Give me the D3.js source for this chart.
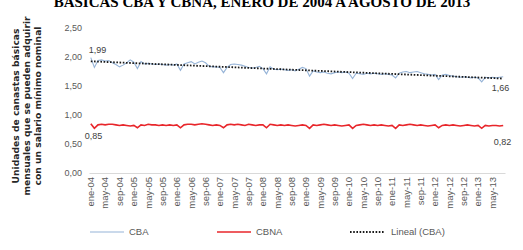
<!DOCTYPE html>
<html>
<head>
<meta charset="utf-8">
<script src="https://cdn.jsdelivr.net/npm/d3@7"></script>
<style>
body { margin: 0; background: #fff; }
text { font-family: "Liberation Sans", Arial, sans-serif; }
</style>
</head>
<body>
<div id="chart"></div>
<script>
// monthly series, ene-2004 .. ago-2013
var mesesCortos = ["ene","feb","mar","abr","may","jun","jul","ago","sep","oct","nov","dic"];
var anios = ["04","05","06","07","08","09","10","11","12","13"];

var cba = [
  1.99, 1.82, 1.94, 1.95, 1.93, 1.94, 1.90, 1.87, 1.83, 1.86, 1.90, 1.95,
  1.91, 1.80, 1.92, 1.88, 1.89, 1.88, 1.87, 1.88, 1.87, 1.86, 1.87, 1.86,
  1.88, 1.77, 1.88, 1.90, 1.92, 1.88, 1.91, 1.93, 1.90, 1.84, 1.83, 1.83,
  1.82, 1.73, 1.82, 1.87, 1.88, 1.87, 1.86, 1.84, 1.82, 1.81, 1.82, 1.84,
  1.80, 1.71, 1.83, 1.79, 1.78, 1.79, 1.78, 1.77, 1.78, 1.76, 1.79, 1.82,
  1.80, 1.67, 1.76, 1.74, 1.73, 1.74, 1.72, 1.71, 1.73, 1.74, 1.73, 1.74,
  1.72, 1.63, 1.72, 1.71, 1.70, 1.72, 1.71, 1.72, 1.71, 1.70, 1.71, 1.70,
  1.69, 1.64, 1.72, 1.74, 1.75, 1.73, 1.74, 1.75, 1.73, 1.71, 1.70, 1.69,
  1.70, 1.61, 1.69, 1.70, 1.68, 1.67, 1.66, 1.65, 1.66, 1.65, 1.64, 1.65,
  1.64, 1.57, 1.65, 1.64, 1.65, 1.64, 1.65, 1.66
];

var cbna = [
  0.85, 0.77, 0.83, 0.84, 0.83, 0.84, 0.84, 0.83, 0.82, 0.83, 0.82, 0.81,
  0.82, 0.78, 0.83, 0.82, 0.84, 0.83, 0.83, 0.82, 0.83, 0.82, 0.83, 0.82,
  0.83, 0.78, 0.83, 0.84, 0.84, 0.83, 0.84, 0.85, 0.84, 0.83, 0.82, 0.83,
  0.82, 0.78, 0.83, 0.84, 0.83, 0.84, 0.83, 0.82, 0.84, 0.83, 0.82, 0.83,
  0.83, 0.78, 0.84, 0.83, 0.82, 0.83, 0.82, 0.83, 0.82, 0.81, 0.82, 0.83,
  0.82, 0.77, 0.83, 0.82, 0.83, 0.84, 0.83, 0.82, 0.83, 0.82, 0.81, 0.82,
  0.83, 0.77, 0.82, 0.83, 0.84, 0.83, 0.82, 0.83, 0.82, 0.83, 0.82, 0.81,
  0.82, 0.77, 0.83, 0.82, 0.83, 0.84, 0.83, 0.82, 0.83, 0.82, 0.81, 0.82,
  0.83, 0.78, 0.82, 0.83, 0.82, 0.83, 0.82, 0.81, 0.82, 0.83, 0.82, 0.81,
  0.82, 0.77, 0.82, 0.81, 0.82, 0.82, 0.81, 0.82
];

var yTicks = [0, 0.5, 1, 1.5, 2, 2.5];

var meses = [];
anios.forEach(function(a){
  mesesCortos.forEach(function(m){
    if (meses.length < cba.length) meses.push(m + "-" + a);
  });
});

var svgWidth = 523, svgHeight = 250;
var margin = { top: 28, right: 18, bottom: 77, left: 89 };
var width = svgWidth - margin.left - margin.right;
var height = svgHeight - margin.top - margin.bottom;

var svg = d3.select("#chart").append("svg")
  .attr("width", svgWidth)
  .attr("height", svgHeight);

// title, cut at the top edge as in the source image
svg.append("text")
  .attr("x", 262)
  .attr("y", 7)
  .attr("text-anchor", "middle")
  .style("font-family", "'Liberation Serif', 'Times New Roman', serif")
  .style("font-weight", "bold")
  .style("font-size", "15px")
  .attr("fill", "#000")
  .text("BASICAS CBA Y CBNA, ENERO DE 2004 A AGOSTO DE 2013");

var g = svg.append("g")
  .attr("transform", `translate(${margin.left},${margin.top})`);

var x = d3.scaleBand().domain(meses).range([0, width]);
var y = d3.scaleLinear().domain([0, 2.5]).range([height, 0]);
var cx = function(i){ return x(meses[i]) + x.bandwidth() / 2; };

// axes
var yAxis = d3.axisLeft(y).tickValues(yTicks).tickSize(0).tickPadding(7)
  .tickFormat(function(d){ return d3.format(".2f")(d).replace(".", ","); });
var gy = g.append("g").call(yAxis);
gy.select(".domain").remove();
gy.selectAll("text").attr("fill", "#595959").style("font-size", "9px");

var xTickVals = meses.filter(function(d, i){ return i % 4 === 0; });
var xAxis = d3.axisBottom(x).tickValues(xTickVals).tickSize(0).tickPadding(4);
var gx = g.append("g").attr("transform", `translate(0,${height})`).call(xAxis);
gx.select(".domain").attr("stroke", "#d9d9d9");
gx.selectAll("text")
  .attr("fill", "#595959")
  .style("font-size", "9.5px")
  .attr("transform", "rotate(-90)")
  .attr("text-anchor", "end")
  .attr("x", -4)
  .attr("y", 0)
  .attr("dy", "0.35em");

// trend line (least squares on CBA)
var n = cba.length;
var mx = d3.mean(d3.range(n)), my = d3.mean(cba);
var slope = d3.sum(d3.range(n), function(i){ return (i - mx) * (cba[i] - my); }) /
            d3.sum(d3.range(n), function(i){ return (i - mx) * (i - mx); });
var icpt = my - slope * mx;

var line = d3.line().x(function(d, i){ return cx(i); }).y(function(d){ return y(d); });

g.append("path").datum(cba)
  .attr("fill", "none").attr("stroke", "#95b3d7").attr("stroke-width", 1.1)
  .attr("d", line);

g.append("path").datum(cbna)
  .attr("fill", "none").attr("stroke", "#e8262b").attr("stroke-width", 1.6)
  .attr("d", line);

g.append("line")
  .attr("x1", cx(0)).attr("y1", y(icpt))
  .attr("x2", cx(n - 1)).attr("y2", y(icpt + slope * (n - 1)))
  .attr("stroke", "#1a1a1a").attr("stroke-width", 1.8)
  .attr("stroke-dasharray", "1.6,1.6");

// data labels at first and last points
var fmt = function(v){ return d3.format(".2f")(v).replace(".", ","); };
var labels = [
  { v: cba[0], x: cx(0) - 2, y: y(cba[0]) - 5, a: "start" },
  { v: cbna[0], x: cx(0) - 6, y: y(cbna[0]) + 15, a: "start" },
  { v: cba[n - 1], x: cx(n - 1) + 6, y: y(cba[n - 1]) + 14, a: "end" },
  { v: cbna[n - 1], x: cx(n - 1) + 8, y: y(cbna[n - 1]) + 20, a: "end" }
];
g.selectAll(".dlabel").data(labels).enter().append("text")
  .attr("class", "dlabel")
  .attr("x", function(d){ return d.x; })
  .attr("y", function(d){ return d.y; })
  .attr("text-anchor", function(d){ return d.a; })
  .attr("fill", "#404040")
  .style("font-size", "9px")
  .text(function(d){ return fmt(d.v); });

// y axis title
var yTitle = ["Unidades de canastas básicas", "mensuales que se pueden adquirir", "con un salario mínimo nominal"];
svg.append("text")
  .attr("transform", "translate(19,106) rotate(-90)")
  .attr("text-anchor", "middle")
  .style("font-family", "'DejaVu Sans', Verdana, sans-serif")
  .style("font-weight", "bold")
  .style("font-size", "9.2px")
  .attr("fill", "#262626")
  .selectAll("tspan").data(yTitle).enter().append("tspan")
  .attr("x", 0)
  .attr("dy", function(d, i){ return i === 0 ? 0 : 10.8; })
  .text(function(d){ return d; });

// legend
var legend = [
  { name: "CBA", color: "#95b3d7", w: 1.1, dash: null, x: 90 },
  { name: "CBNA", color: "#e8262b", w: 1.6, dash: null, x: 217 },
  { name: "Lineal (CBA)", color: "#1a1a1a", w: 1.8, dash: "1.6,1.6", x: 350 }
];
var lg = svg.selectAll(".leg").data(legend).enter().append("g")
  .attr("class", "leg")
  .attr("transform", function(d){ return `translate(${d.x},232)`; });
lg.append("line")
  .attr("x1", 0).attr("x2", 34).attr("y1", 0).attr("y2", 0)
  .attr("stroke", function(d){ return d.color; })
  .attr("stroke-width", function(d){ return d.w; })
  .attr("stroke-dasharray", function(d){ return d.dash; });
lg.append("text")
  .attr("x", function(d){ return d.dash ? 41 : 39; })
  .attr("y", 0).attr("dy", "0.35em")
  .attr("fill", "#595959")
  .style("font-size", "9.5px")
  .text(function(d){ return d.name; });
</script>
</body>
</html>
